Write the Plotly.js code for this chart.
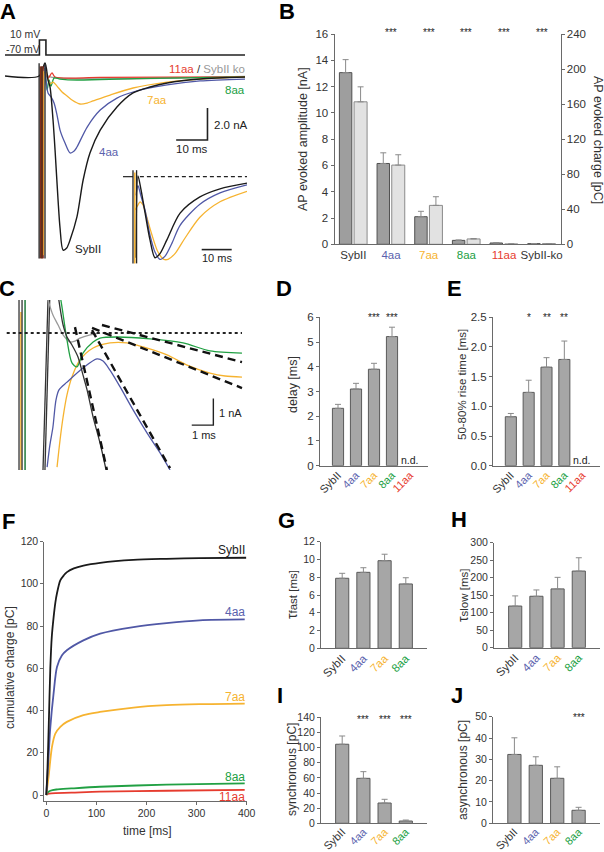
<!DOCTYPE html>
<html><head><meta charset="utf-8">
<script src="https://cdn.plot.ly/plotly-3.0.1.min.js"></script>
<style>html,body{margin:0;padding:0;background:#fff}#chart{width:604px;height:852px}</style>
</head><body><div id="chart"></div>
<script>
// ================= DATA =================
// Panel A : example traces (time ms, current nA)
const aVoltT = [-11.3,-0.2,-0.2,1.9,1.9,66.1];
const aVoltV = [-70,-70,10,10,-70,-70];
const aSybT = [-11.3,-0.3,1.61,2.58,3.23,4.19,4.84,5.81,6.45,7.42,8.6,9.68,11.9,13.9,16.1,19.4,24.8,30.0,35.5,41.0,51.6,66.1];
const aSybI = [0,0,0.81,-0.25,-0.69,-2.75,-4.63,-7.75,-9.5,-10.88,-10.75,-10.25,-8.81,-6.5,-4.81,-3.38,-1.94,-1.06,-0.69,-0.44,-0.19,-0.06];
const a4T = [1.61,2.58,3.55,4.52,5.48,6.45,8.06,9.68,11.0,11.9,15.2,19.4,24.8,30.0,41.0,51.6,66.1];
const a4I = [0.69,-1.06,-1.31,-1.69,-2.44,-3.38,-4.19,-4.81,-4.69,-4.44,-3.19,-2.13,-1.38,-1.0,-0.56,-0.31,-0.19];
const a7T = [1.94,3.23,4.19,5.48,7.1,8.71,10.3,12.9,15.2,17.1,22.6,30.0,41.0,51.6,66.1];
const a7I = [0.25,-0.5,-0.38,-0.63,-1.0,-1.25,-1.5,-1.75,-1.69,-1.56,-1.19,-0.75,-0.38,-0.19,-0.06];
const a8T = [1.61,2.26,2.9,3.55,4.52,6.45,11.9,19.4,41.0,66.1];
const a8I = [0.5,-0.88,-0.25,-0.63,-0.13,-0.19,-0.25,-0.22,-0.13,-0.06];
const a11T = [1.61,2.58,3.87,4.84,19.4,66.1];
const a11I = [0.25,-0.13,0.19,-0.06,-0.09,-0.06];
const aKoT = [1.61,3.23,66.1];
const aKoI = [0.13,-0.06,-0.03];
const aArtBlackT = [-0.3,-0.3,null,1.6,1.6];
const aArtBlackI = [0.8,-11.4,null,0.8,-11.4];
const aArtRedT = [0.2,0.2,null,0.9,0.9];
const aArtRedI = [0.6,-11.4,null,0.6,-11.4];
const aArtBrownT = [0.55,0.55];
const aArtBrownI = [0.6,-11.4];
const aArtYelT = [1.2,1.2];
const aArtYelI = [0.3,-11.2];
const aScaleT = [43.9,54.0,54.0];
const aScaleI = [-4,-4,-2];
// Panel A inset (normalized)
const inBaseT = [-3.33,0];
const inBaseI = [0,0];
const inDashT = [2.3,38];
const inDashI = [0,0];
const inSybT = [1.0,1.67,2.67,4.0,5.67,7.33,9.0,11.3,15.7,22.3,29.0,38];
const inSybI = [-1.0,0.01,-0.16,-0.44,-0.78,-1.0,-0.95,-0.78,-0.45,-0.25,-0.15,-0.08];
const in4T = [1.0,1.67,2.67,4.0,5.67,7.33,9.0,10.7,13.0,15.7,22.3,29.0,38];
const in4I = [-0.23,-0.11,-0.24,-0.41,-0.72,-0.93,-1.02,-0.98,-0.82,-0.6,-0.34,-0.2,-0.1];
const in7T = [0.67,1.67,2.33,3.33,4.67,6.33,8.33,10.3,11.7,14.0,17.3,22.3,29.0,38];
const in7I = [-0.41,-0.35,-0.31,-0.35,-0.51,-0.72,-0.93,-1.02,-1.02,-0.95,-0.76,-0.5,-0.31,-0.18];
const inArtBlackT = [0,0,null,1.2,1.2];
const inArtBlackI = [0.08,-1.07,null,0.08,-1.07];
const inArtYelT = [0.6,0.6];
const inArtYelI = [0.05,-1.07];
const inScaleT = [22.9,32.9];
const inScaleI = [-0.9,-0.9];

// Panel C : onset detail (ms, nA)
const cDotT = [0.31,11.2];
const cDotI = [0,0];
const cGreenT = [2.78,2.87,3.10,3.33,3.56,3.84,4.31,4.63,5.42,6.94,8.47,9.72,11.2];
const cGreenI = [1.42,0.97,-0.26,-1.12,-1.27,-0.75,-0.34,-0.19,-0.15,-0.22,-0.37,-0.67,-0.75];
const cYelT = [2.64,2.78,2.92,3.10,3.33,3.70,4.31,5.09,5.88,6.62,7.73,8.66,9.72,10.42,11.2];
const cYelI = [-5.02,-4.0,-3.15,-2.32,-1.65,-1.01,-0.56,-0.37,-0.37,-0.52,-0.82,-1.2,-1.5,-1.61,-1.65];
const cBlueT = [2.18,2.31,2.45,2.59,2.73,3.10,3.84,4.49,4.77,5.09,5.56,6.16,6.81,7.41,7.87];
const cBlueI = [-5.02,-4.19,-3.52,-2.51,-2.13,-1.84,-1.31,-0.97,-1.05,-1.39,-2.02,-2.88,-3.75,-4.49,-5.13];
const cSybT = [2.69,2.92,3.10,3.33,3.61,3.84,4.03,4.31,4.63,4.91];
const cSybI = [1.42,0.3,-0.15,-0.45,-0.9,-1.57,-2.13,-3.15,-4.12,-5.13];
const cKoT = [2.22,2.45,2.69,2.92,3.24,3.47,3.70,4.17,4.63];
const cKoI = [1.24,0.67,0.3,-0.07,-0.34,-0.3,-0.19,-0.07,0];
const cArtDarkT = [0.88,0.88,null,1.02,1.02,null,1.99,2.22,null,2.08,2.3];
const cArtDarkI = [1.24,-5.13,null,1.24,-5.13,null,-5.13,1.24,null,-5.13,1.24];
const cArtGreenT = [1.16,1.16];
const cArtGreenI = [1.24,-5.13];
const cArtYelT = [0.97,0.97];
const cArtYelI = [0.79,-5.13];
const cFit1T = [3.47,4.95], cFit1I = [0.22,-5.13];
const cFit2T = [4.26,7.87], cFit2I = [0.11,-5.06];
const cFit3T = [4.26,11.2], cFit3I = [0.19,-2.06];
const cFit4T = [4.72,11.2], cFit4I = [0.3,-1.09];
const cScaleT = [8.875,9.875,9.875];
const cScaleI = [-3.45,-3.45,-2.45];

// Panel B
const bCats = ["SybII","4aa","7aa","8aa","11aa","SybII-ko"];
const bAmp = [13.06,6.15,2.1,0.30,0.10,0.05];
const bAmpErr = [0.99,0.81,0.41,0.03,0.02,0.01];
const bCharge = [162.6,90.4,44.4,6.1,0.4,0.75];
const bChargeErr = [17.1,11.8,9.9,0.5,0.1,0.1];
const bStars = ["","***","***","***","***","***"];

// Panels D, E
const deCats = ["SybII","4aa","7aa","8aa","11aa"];
const dDelay = [2.32,3.1,3.9,5.22,null];
const dDelayErr = [0.16,0.23,0.24,0.38,null];
const dStars = ["","","***","***",""];
const eRise = [0.825,1.235,1.66,1.79,null];
const eRiseErr = [0.055,0.205,0.16,0.31,null];
const eStars = ["","*","**","**",""];

// Panel F : cumulative charge (ms, pC)
const fSybT = [0,2,5,8,11,14.5,18,21.3,27.9,35,41.2,55,74.2,107.5,173.7,240,306,399];
const fSybQ = [0,10,34,60,75,84,91,95.5,101.6,104,105.5,107.3,108.6,109.9,111.3,111.8,112.1,112.3];
const f4T = [0,2,5,8,14.5,21.3,31,41,74,107.5,174,240,306,396];
const f4Q = [0,8,20,32,48,60.6,66,68.5,73.2,76.4,79.5,81.4,82.7,83.1];
const f7T = [0,4.6,11.3,18,28,41,74,107,174,240,306,396];
const f7Q = [0,8.7,22.8,29.1,32.3,34.6,37.8,39.3,41.4,42.5,43.0,43.3];
const f8T = [0,3,8,20,50,107,240,396];
const f8Q = [0,1.2,2.0,2.6,3.1,3.9,4.9,5.5];
const f11T = [0,3,10,50,107,240,396];
const f11Q = [0,0.5,0.8,1.1,1.6,2.0,2.4];

// Panels G-J
const ghCats = ["SybII","4aa","7aa","8aa"];
const gFast = [7.89,8.56,9.87,7.25];
const gFastErr = [0.56,0.52,0.73,0.70];
const hSlow = [119,147,168,219];
const hSlowErr = [29,18,33,38];
const iSync = [104.4,59.4,26.8,3.0];
const iSyncErr = [10.9,8.8,4.9,1.3];
const iStars = ["","***","***","***"];
const jAsync = [32.3,27.2,21.1,6.1];
const jAsyncErr = [7.8,4.0,5.4,1.4];
const jStars = ["","","","***"];

// ================= STYLE =================
const W = 604, H = 852;
const FONT = 'Arial, "Liberation Sans", sans-serif';
const TXT = '#333333';
const AX = '#6a6a6a';
const COL = {SybII:'#1a1a1a', '4aa':'#5058a6', '7aa':'#f6b330', '8aa':'#21a043', '11aa':'#e63b2e', ko:'#9a9a9a', 'SybII-ko':'#333333'};
const LBL = {SybII:'#333333', '4aa':'#5a62ad', '7aa':'#f6b330', '8aa':'#21a043', '11aa':'#e63b2e', 'SybII-ko':'#333333'};
const X = v => v / W;
const Y = v => 1 - v / H;
const xd = (a,b) => [X(a), X(b)];
const yd = (top,bot) => [Y(bot), Y(top)];

const traces = [];
function line(x, y, xa, ya, color, width, extra) {
  return {type:'scatter', mode:'lines', x, y, xaxis:xa, yaxis:ya, hoverinfo:'skip',
    line:Object.assign({color, width}, (extra && extra.line) || {})};
}
const sp = {line:{shape:'spline', smoothing:0.8}};

// ---- Panel A
traces.push(line(aVoltT, aVoltV, 'x', 'y2', '#222', 1.6));
traces.push(line(aKoT, aKoI, 'x', 'y', COL.ko, 1.3, sp));
traces.push(line(a11T, a11I, 'x', 'y', COL['11aa'], 1.3, sp));
traces.push(line(a8T, a8I, 'x', 'y', COL['8aa'], 1.3, sp));
traces.push(line(a7T, a7I, 'x', 'y', COL['7aa'], 1.3, sp));
traces.push(line(a4T, a4I, 'x', 'y', COL['4aa'], 1.3, sp));
traces.push(line(aSybT, aSybI, 'x', 'y', COL.SybII, 1.4, sp));
traces.push(line(aArtRedT, aArtRedI, 'x', 'y', '#8e2c20', 2));
traces.push(line(aArtBrownT, aArtBrownI, 'x', 'y', '#5e321a', 2));
traces.push(line(aArtYelT, aArtYelI, 'x', 'y', COL['7aa'], 1));
traces.push(line(aArtBlackT, aArtBlackI, 'x', 'y', '#222', 1.3));
traces.push(line(aScaleT, aScaleI, 'x', 'y', '#222', 1.6));
// inset
traces.push(line(inBaseT, inBaseI, 'x2', 'y3', '#222', 1.2));
traces.push(line(inDashT, inDashI, 'x2', 'y3', '#222', 1.2, {line:{dash:'4px,3px'}}));
traces.push(line(in7T, in7I, 'x2', 'y3', COL['7aa'], 1.3, sp));
traces.push(line(in4T, in4I, 'x2', 'y3', COL['4aa'], 1.3, sp));
traces.push(line(inSybT, inSybI, 'x2', 'y3', COL.SybII, 1.4, sp));
traces.push(line(inArtYelT, inArtYelI, 'x2', 'y3', COL['7aa'], 1.5));
traces.push(line(inArtBlackT, inArtBlackI, 'x2', 'y3', '#222', 1.3));
traces.push(line(inScaleT, inScaleI, 'x2', 'y3', '#222', 1.6));

// ---- Panel C
traces.push(line(cArtYelT, cArtYelI, 'x4', 'y6', COL['7aa'], 1.5));
traces.push(line(cArtGreenT, cArtGreenI, 'x4', 'y6', '#1f7a3a', 1.5));
traces.push(line(cArtDarkT, cArtDarkI, 'x4', 'y6', '#333', 1.3));
traces.push(line(cKoT, cKoI, 'x4', 'y6', COL.ko, 1.3, sp));
traces.push(line(cYelT, cYelI, 'x4', 'y6', COL['7aa'], 1.3, sp));
traces.push(line(cGreenT, cGreenI, 'x4', 'y6', COL['8aa'], 1.3, sp));
traces.push(line(cBlueT, cBlueI, 'x4', 'y6', COL['4aa'], 1.3, sp));
traces.push(line(cSybT, cSybI, 'x4', 'y6', '#333', 1.3, sp));
traces.push(line(cDotT, cDotI, 'x4', 'y6', '#222', 2, {line:{dash:'dot'}}));
[[cFit1T,cFit1I],[cFit2T,cFit2I],[cFit3T,cFit3I],[cFit4T,cFit4I]].forEach(f =>
  traces.push(line(f[0], f[1], 'x4', 'y6', '#111', 2.4, {line:{dash:'8px,5px'}})));
traces.push(line(cScaleT, cScaleI, 'x4', 'y6', '#222', 1.4));

// ---- bar helpers
const BAR = {color:'#a6a6a6', line:{color:'#5a5a5a', width:1}};
function errY(arr) { return {type:'data', symmetric:false, array:arr, arrayminus:arr.map(() => 0), color:'#8a8a8a', thickness:1, width:3}; }
function bar(cats, vals, errs, xa, ya, extra) {
  return Object.assign({type:'bar', x:cats, y:vals, xaxis:xa, yaxis:ya, marker:BAR, width:0.62,
    error_y:errY(errs), hoverinfo:'skip'}, extra || {});
}
// ---- Panel B
traces.push(bar(bCats, bAmp, bAmpErr, 'x3', 'y4', {width:0.33, offset:-0.37, marker:{color:'#9e9e9e', line:{color:'#505050', width:1}}}));
traces.push(bar(bCats, bCharge, bChargeErr, 'x3', 'y5', {width:0.345, offset:0.02, marker:{color:'#e2e2e2', line:{color:'#8a8a8a', width:1}}}));
// ---- D, E, G, H, I, J
traces.push(bar(deCats, dDelay, dDelayErr, 'x5', 'y7'));
traces.push(bar(deCats, eRise, eRiseErr, 'x6', 'y8'));
traces.push(bar(ghCats, gFast, gFastErr, 'x8', 'y10'));
traces.push(bar(ghCats, hSlow, hSlowErr, 'x9', 'y11'));
traces.push(bar(ghCats, iSync, iSyncErr, 'x10', 'y12'));
traces.push(bar(ghCats, jAsync, jAsyncErr, 'x11', 'y13'));

// ---- Panel F
traces.push(line(f11T, f11Q, 'x7', 'y9', COL['11aa'], 1.8, sp));
traces.push(line(f8T, f8Q, 'x7', 'y9', COL['8aa'], 1.8, sp));
traces.push(line(f7T, f7Q, 'x7', 'y9', COL['7aa'], 1.8, sp));
traces.push(line(f4T, f4Q, 'x7', 'y9', COL['4aa'], 1.8, sp));
traces.push(line(fSybT, fSybQ, 'x7', 'y9', COL.SybII, 1.8, sp));

// ================= AXES =================
function hidden(dom, range, anchor) { return {domain:dom, range, visible:false, anchor, fixedrange:true}; }
function catX(dom, range, cats, anchor, angle, size, standoff) {
  const a = {domain:dom, range, type:'category', categoryorder:'array', categoryarray:cats, anchor,
    tickmode:'array', tickvals:cats, ticktext:cats.map(c => `<span style="color:${LBL[c]}">${c}</span>`),
    tickangle:angle, ticks:'', showline:true, linecolor:AX, linewidth:1, showgrid:false, zeroline:false,
    tickfont:{family:FONT, size:size || 11, color:TXT}, fixedrange:true};
  if (standoff !== undefined) a.ticklabelstandoff = standoff;
  return a;
}
function numY(dom, range, dtick, anchor, extra) {
  return Object.assign({domain:dom, range, dtick, tick0:0, anchor, showline:true, linecolor:AX, linewidth:1,
    ticks:'outside', ticklen:3, tickcolor:AX, showgrid:false, zeroline:false,
    tickfont:{family:FONT, size:11, color:TXT}, fixedrange:true}, extra || {});
}
const tf = s => ({tickfont:{family:FONT, size:s, color:TXT}});

const layout = {
  width:W, height:H, margin:{l:0, r:0, t:0, b:0, pad:0},
  paper_bgcolor:'#ffffff', plot_bgcolor:'rgba(0,0,0,0)', showlegend:false,
  font:{family:FONT, color:TXT, size:11}, bargap:0,
  xaxis: hidden(xd(5,245), [-11.3,66.1], 'y'),
  yaxis: hidden(yd(60,268), [-12,1.0], 'x'),
  yaxis2: hidden(yd(30,62), [-107.3,63.3], 'x'),
  xaxis2: hidden(xd(123,247), [-3.33,38], 'y3'),
  yaxis3: hidden(yd(165,268), [-1.127,0.144], 'x2'),
  xaxis3: catX(xd(334.5,560.5), [-0.5,5.5], bCats, 'y4', 0, 11.5),
  yaxis4: numY(yd(34,244.3), [0,16], 2, 'x3', tf(11.5)),
  yaxis5: numY(yd(34,244.3), [0,240], 40, 'x3', Object.assign({overlaying:'y4', side:'right'}, tf(11.5))),
  xaxis4: hidden(xd(5,245), [0.231,11.34], 'y6'),
  yaxis6: hidden(yd(300,470), [-5.13,1.236], 'x4'),
  xaxis5: catX(xd(320,428), [-1,5], deCats, 'y7', -45, 11, -2),
  yaxis7: numY(yd(317.3,465.7), [0,6], 1, 'x5', tf(11.5)),
  xaxis6: catX(xd(493,600), [-1,5], deCats, 'y8', -45, 11, -2),
  yaxis8: numY(yd(317.3,465.7), [0,2.5], 0.5, 'x6', Object.assign({tickformat:'.1f'}, tf(11.5))),
  xaxis7: {domain:xd(44.3,246.7), range:[-4,400], anchor:'y9', tickmode:'array', tickvals:[0,100,200,300,400],
    showline:true, linecolor:AX, ticks:'outside', ticklen:3, tickcolor:AX, showgrid:false, zeroline:false,
    tickfont:{family:FONT, size:10.5, color:TXT}, fixedrange:true},
  yaxis9: numY(yd(541.5,800.7), [-2.7,120], 20, 'x7', tf(10.5)),
  xaxis8: catX(xd(321,427), [-1,4], ghCats, 'y10', -45, 11.5, -2),
  yaxis10: numY(yd(541.8,648.3), [0,12], 2, 'x8', tf(10.5)),
  xaxis9: catX(xd(494,600), [-1,4], ghCats, 'y11', -45, 11.5, -2),
  yaxis11: numY(yd(542.7,647.7), [0,300], 50, 'x9', tf(10.5)),
  xaxis10: catX(xd(321,427), [-1,4], ghCats, 'y12', -45, 11, -3),
  yaxis12: numY(yd(717.3,823.3), [0,140], 20, 'x10', tf(10.5)),
  xaxis11: catX(xd(493,600), [-1,4], ghCats, 'y13', -45, 11, -3),
  yaxis13: numY(yd(716.7,823.3), [0,50], 10, 'x11', tf(10.5)),
};

// ================= ANNOTATIONS =================
const anns = [];
function txt(text, x, y, o) {
  o = o || {};
  anns.push({text, x:X(x), y:Y(y), xref:'paper', yref:'paper', showarrow:false,
    xanchor:o.xa || 'center', yanchor:'middle', textangle:o.angle || 0,
    font:{family:FONT, size:o.size || 11, color:o.color || TXT}});
}
function letter(t, x, y) { txt('<b>' + t + '</b>', x, y, {size:22, color:'#000'}); }
letter('A', 8, 11); letter('B', 287, 11); letter('C', 7, 289); letter('D', 284, 289); letter('E', 454, 289);
letter('F', 8, 521); letter('G', 286, 520); letter('H', 459, 519); letter('I', 280, 695); letter('J', 457, 695);

// A labels
txt('10 mV', 8, 34, {xa:'left', size:10.5});
txt('-70 mV', 4, 49, {xa:'left', size:10.5});
txt('<span style="color:' + LBL['11aa'] + '">11aa</span> / <span style="color:#999">SybII ko</span>', 247, 69, {xa:'right', size:11.5});
txt('8aa', 247, 90, {xa:'right', size:11.5, color:LBL['8aa']});
txt('7aa', 157, 100, {size:11.5, color:LBL['7aa']});
txt('4aa', 109, 152, {size:11.5, color:LBL['4aa']});
txt('SybII', 88, 249, {size:11.5, color:'#222'});
txt('2.0 nA', 212, 125, {xa:'left', size:11.5, color:'#222'});
txt('10 ms', 192, 149, {size:11.5, color:'#222'});
txt('10 ms', 217, 258, {size:11, color:'#222'});
// C labels
txt('1 nA', 217, 413, {xa:'left', size:11, color:'#222'});
txt('1 ms', 204, 435, {size:11, color:'#222'});

// axis titles
txt('AP evoked amplitude [nA]', 303, 139, {angle:-90, size:12.5});
txt('AP evoked charge [pC]', 598, 140, {angle:90, size:12.5});
txt('delay [ms]', 293, 385, {angle:-90, size:12.5});
txt('50-80% rise time [ms]', 462, 385, {angle:-90, size:11.5});
txt('cumulative charge [pC]', 10, 668, {angle:-90, size:12});
txt('time [ms]', 147, 831, {size:12});
txt('<span style="font-size:14px">τ</span>fast [ms]', 292, 595, {angle:-90, size:11.5});
txt('<span style="font-size:14px">τ</span>slow [ms]', 463, 596, {angle:-90, size:11.5});
txt('synchronous [pC]', 292, 770, {angle:-90, size:12});
txt('asynchronous [pC]', 463, 770, {angle:-90, size:12});

// F labels
txt('SybII', 247, 550, {xa:'right', size:12, color:'#222'});
txt('4aa', 247, 612, {xa:'right', size:12, color:LBL['4aa']});
txt('7aa', 247, 697, {xa:'right', size:12, color:LBL['7aa']});
txt('8aa', 247, 777, {xa:'right', size:12, color:LBL['8aa']});
txt('11aa', 247, 797, {xa:'right', size:12, color:LBL['11aa']});

// stars and n.d. placed at category positions
function catAnn(xaxisName, idx, text, yPix, size) {
  anns.push({text, x:idx, y:Y(yPix), xref:xaxisName, yref:'paper', showarrow:false,
    xanchor:'center', yanchor:'middle', font:{family:FONT, size:size || 10, color:'#222'}});
}
bStars.forEach((s,i) => { if (s) catAnn('x3', i, s, 33, 10); });
dStars.forEach((s,i) => { if (s) catAnn('x5', i, s, 318, 10); });
eStars.forEach((s,i) => { if (s) catAnn('x6', i, s, 318, 10); });
iStars.forEach((s,i) => { if (s) catAnn('x10', i, s, 719, 10); });
jStars.forEach((s,i) => { if (s) catAnn('x11', i, s, 717, 10); });
catAnn('x5', 4, 'n.d.', 460, 10.5);
catAnn('x6', 4, 'n.d.', 460, 10.5);

layout.annotations = anns;

Plotly.newPlot('chart', traces, layout, {staticPlot:true, displayModeBar:false});
</script>
</body></html>
